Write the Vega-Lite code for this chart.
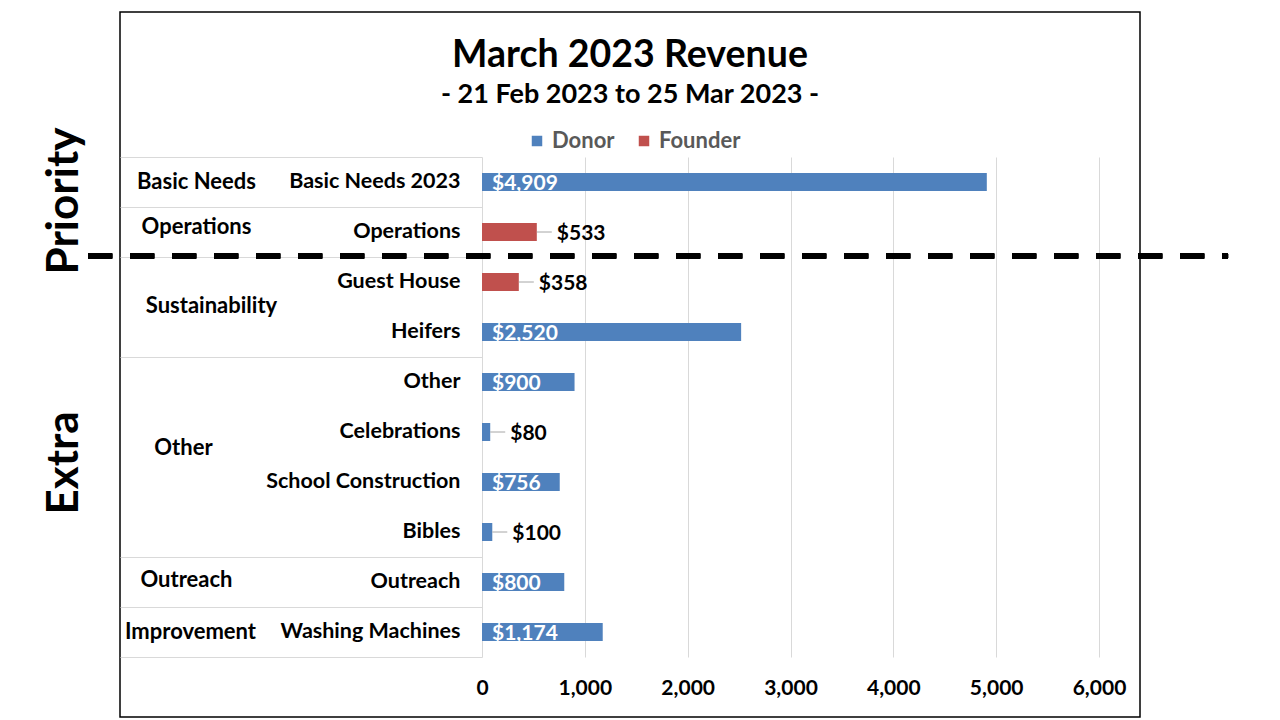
{
  "$schema": "https://vega.github.io/schema/vega-lite/v6.json",
  "width": 1020,
  "height": 705,
  "autosize": {"type": "none"},
  "padding": {"left": 120, "top": 12, "right": 140, "bottom": 3},
  "background": "white",
  "config": {
    "font": "Lato",
    "view": {"stroke": "black", "strokeWidth": 1.5}
  },
  "title": {
    "text": "March 2023 Revenue",
    "subtitle": "- 21 Feb 2023 to 25 Mar 2023 -",
    "fontSize": 37.5,
    "fontWeight": "bold",
    "color": "black",
    "subtitleFontSize": 27,
    "subtitleFontWeight": "bold",
    "subtitleColor": "black",
    "subtitlePadding": 8,
    "anchor": "middle",
    "frame": "group",
    "offset": -96
  },
  "data": {
    "values": [
      {"item": "Basic Needs 2023", "group": "Basic Needs", "section": "Priority", "source": "Donor", "value": 4909},
      {"item": "Operations", "group": "Operations", "section": "Priority", "source": "Founder", "value": 533},
      {"item": "Guest House", "group": "Sustainability", "section": "Extra", "source": "Founder", "value": 358},
      {"item": "Heifers", "group": "Sustainability", "section": "Extra", "source": "Donor", "value": 2520},
      {"item": "Other", "group": "Other", "section": "Extra", "source": "Donor", "value": 900},
      {"item": "Celebrations", "group": "Other", "section": "Extra", "source": "Donor", "value": 80},
      {"item": "School Construction", "group": "Other", "section": "Extra", "source": "Donor", "value": 756},
      {"item": "Bibles", "group": "Other", "section": "Extra", "source": "Donor", "value": 100},
      {"item": "Outreach", "group": "Outreach", "section": "Extra", "source": "Donor", "value": 800},
      {"item": "Washing Machines", "group": "Improvement", "section": "Extra", "source": "Donor", "value": 1174}
    ]
  },
  "resolve": {"axis": {"y": "independent"}, "scale": {"y": "shared", "x": "shared"}},
  "layer": [
    {
      "mark": {"type": "bar", "size": 18},
      "encoding": {
        "y": {
          "field": "item", "type": "nominal", "sort": null,
          "scale": {
            "domain": ["Basic Needs 2023", "Operations", "Guest House", "Heifers", "Other", "Celebrations", "School Construction", "Bibles", "Outreach", "Washing Machines"],
            "range": [145, 645], "paddingInner": 0, "paddingOuter": 0
          },
          "axis": {
            "orient": "left", "offset": -362, "title": null, "domain": false, "grid": false,
            "bandPosition": 0, "tickSize": 362, "tickWidth": 1,
            "tickColor": {"condition": {"test": "indexof(['Basic Needs 2023','Operations','Guest House','Other','Outreach','Washing Machines'], datum.value) >= 0", "value": "#D9D9D9"}, "value": "rgba(0,0,0,0)"},
            "labelPadding": -340, "labelFontSize": 21.5, "labelFontWeight": "bold", "labelColor": "black",
            "labelLimit": 0, "labelOverlap": false, "labelBound": false
          }
        },
        "x": {
          "field": "value", "type": "quantitative",
          "scale": {"domain": [0, 6000], "range": [362, 979], "nice": false},
          "axis": {
            "orient": "top", "offset": 0,
            "title": null, "domain": false, "ticks": false, "grid": true, "gridColor": "#D9D9D9", "gridWidth": 1,
            "values": [0, 1000, 2000, 3000, 4000, 5000, 6000], "format": ",.0f",
            "labelPadding": -676, "labelBaseline": "middle", "labelFontSize": 21, "labelFontWeight": "bold", "labelColor": "black",
            "labelFlush": false, "labelOverlap": false, "labelBound": false
          }
        },
        "color": {
          "field": "source", "type": "nominal",
          "scale": {"domain": ["Donor", "Founder"], "range": ["#4F81BD", "#C0504D"]},
          "legend": {
            "orient": "none", "legendX": 406, "legendY": 118, "direction": "horizontal", "title": null,
            "symbolType": "square", "symbolSize": 110, "symbolStrokeWidth": 0, "labelOffset": 4,
            "labelFontSize": 22, "labelFontWeight": "bold", "labelColor": "#595959", "columnPadding": 18, "padding": 0
          }
        }
      }
    },
    {
      "transform": [{"filter": "datum.value >= 700"}],
      "mark": {"type": "text", "align": "left", "baseline": "middle", "dx": 10, "dy": 2, "fontSize": 21, "fontWeight": "bold", "color": "white"},
      "encoding": {
        "y": {
          "field": "item", "type": "nominal", "sort": null,
          "axis": {
            "orient": "left", "offset": -362, "title": null, "domain": false, "grid": false,
            "bandPosition": 1, "tickSize": 362, "tickWidth": 1,
            "tickColor": {"condition": {"test": "datum.value === 'Washing Machines'", "value": "#D9D9D9"}, "value": "rgba(0,0,0,0)"},
            "labelExpr": "datum.value === 'Basic Needs 2023' ? 'Basic Needs' : datum.value === 'Operations' ? 'Operations' : datum.value === 'Guest House' ? 'Sustainability' : datum.value === 'Celebrations' ? 'Other' : datum.value === 'Outreach' ? 'Outreach' : datum.value === 'Washing Machines' ? 'Improvement' : ''",
            "labelAlign": "center",
            "labelPadding": {"condition": [
              {"test": "datum.value === 'Guest House'", "value": -91},
              {"test": "datum.value === 'Celebrations'", "value": -63},
              {"test": "datum.value === 'Outreach'", "value": -66},
              {"test": "datum.value === 'Washing Machines'", "value": -70}
            ], "value": -76},
            "labelOffset": {"condition": [
              {"test": "datum.value === 'Guest House'", "value": 24},
              {"test": "datum.value === 'Celebrations'", "value": 16},
              {"test": "datum.value === 'Operations'", "value": -5},
              {"test": "datum.value === 'Outreach'", "value": -2}
            ], "value": 0},
            "labelFontSize": 22, "labelFontWeight": "bold", "labelColor": "black",
            "labelLimit": 0, "labelOverlap": false, "labelBound": false
          }
        },
        "x": {"datum": 0, "type": "quantitative"},
        "text": {"field": "value", "type": "quantitative", "format": "$,.0f"}
      }
    },
    {
      "transform": [{"filter": "datum.value < 700"}],
      "mark": {"type": "text", "align": "left", "baseline": "middle", "dx": 20, "dy": 2, "fontSize": 21, "fontWeight": "bold", "color": "black"},
      "encoding": {
        "y": {
          "field": "item", "type": "nominal", "sort": null,
          "axis": {
            "orient": "left", "offset": 0, "title": null, "domain": false, "ticks": false, "grid": false,
            "labelExpr": "datum.value === 'Basic Needs 2023' ? 'Priority' : datum.value === 'Celebrations' ? 'Extra' : ''",
            "labelAngle": 270, "labelAlign": "center", "labelBaseline": "middle", "labelPadding": 56,
            "labelOffset": {"condition": {"test": "datum.value === 'Basic Needs 2023'", "value": 19}, "value": 31},
            "labelFontSize": 44, "labelFontWeight": "bold", "labelColor": "black",
            "labelLimit": 0, "labelOverlap": false, "labelBound": false
          }
        },
        "x": {"field": "value", "type": "quantitative"},
        "text": {"field": "value", "type": "quantitative", "format": "$,.0f"}
      }
    },
    {
      "transform": [{"filter": "datum.value < 700"}],
      "mark": {"type": "rule", "color": "#A6A6A6", "strokeWidth": 1, "x2Offset": 15},
      "encoding": {
        "y": {"field": "item", "type": "nominal", "sort": null, "axis": null},
        "x": {"field": "value", "type": "quantitative"},
        "x2": {"field": "value"}
      }
    },
    {
      "mark": {"type": "rule", "color": "black", "strokeWidth": 5, "strokeDash": [24, 18], "yOffset": -1},
      "encoding": {
        "y": {"datum": "Guest House", "type": "nominal", "bandPosition": 0, "axis": null},
        "x": {"datum": -3830, "type": "quantitative"},
        "x2": {"datum": 7255}
      }
    }
  ]
}
